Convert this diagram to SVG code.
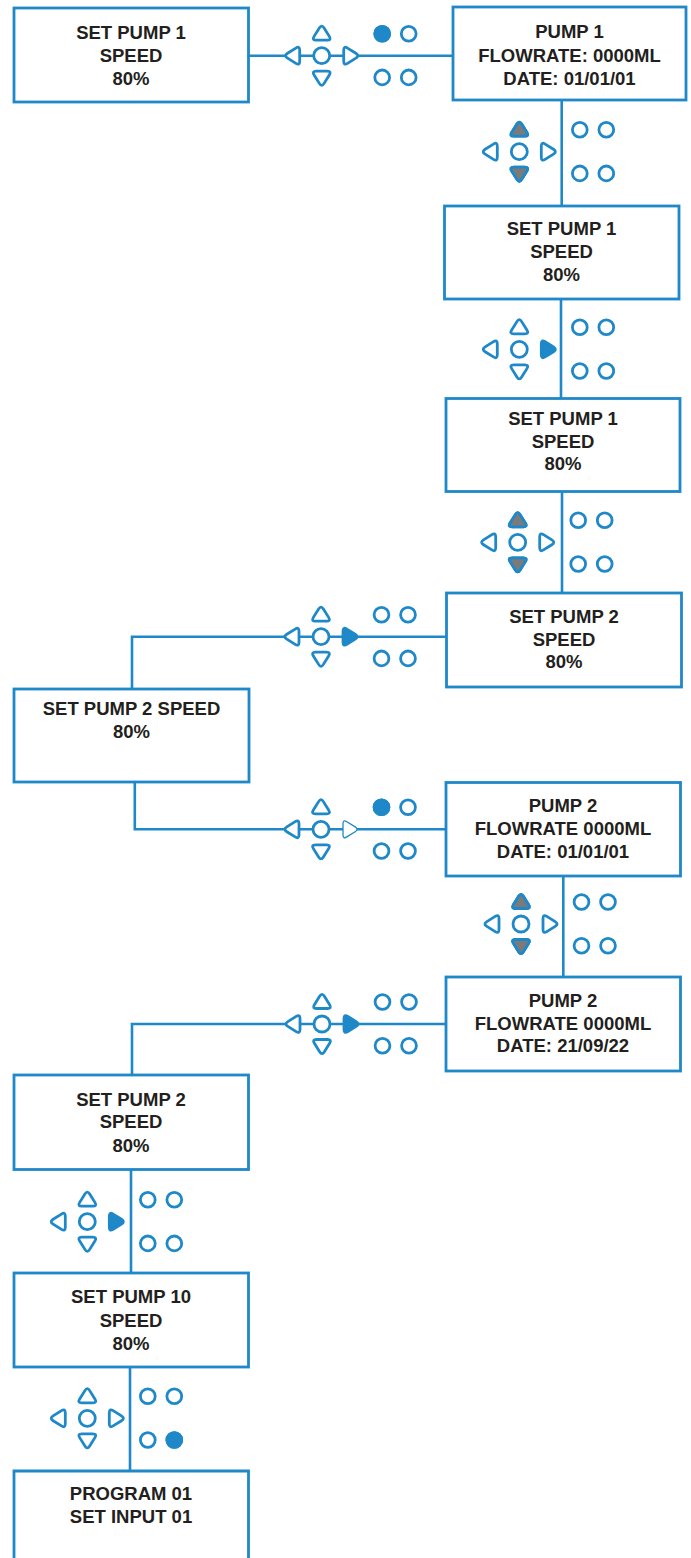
<svg xmlns="http://www.w3.org/2000/svg" xmlns:xlink="http://www.w3.org/1999/xlink" width="691" height="1558" viewBox="0 0 691 1558">
<style>
.box{fill:#fff;stroke:#1e88c8;stroke-width:2.8}
.ln{fill:none;stroke:#1e88c8;stroke-width:2.6}
.t{font-family:"Liberation Sans",Arial,Helvetica,sans-serif;font-weight:bold;font-size:18.5px;fill:#231f20;text-anchor:middle}
.kg{fill:#7a7a7a;stroke:#1e88c8;stroke-width:2.8;stroke-linejoin:round}
.kb{fill:#1e88c8;stroke:#1e88c8;stroke-width:2.8;stroke-linejoin:round}
.kn{fill:#fff;stroke:#1e88c8;stroke-width:2.8;stroke-linejoin:round}
.kw{fill:#fff;stroke:#1e88c8;stroke-width:1.3;stroke-linejoin:round}
</style>
<defs>
<path id="tri" d="M2.39,-4.68 L7.62,3.68 Q10,7.5 5.5,7.5 L-5.5,7.5 Q-10,7.5 -7.62,3.68 L-2.39,-4.68 Q0,-8.5 2.39,-4.68Z"/>
<g id="pad" fill="#fff" stroke="#1e88c8" stroke-width="2.8" stroke-linejoin="round">
<use href="#tri" xlink:href="#tri" transform="translate(0,-23)"/>
<use href="#tri" xlink:href="#tri" transform="translate(0,23) rotate(180)"/>
<use href="#tri" xlink:href="#tri" transform="translate(-29.5,0) rotate(-90)"/>
<circle r="8"/>
<circle cx="60.5" cy="-22" r="7.4"/>
<circle cx="87" cy="-22" r="7.4"/>
<circle cx="60.5" cy="21.7" r="7.4"/>
<circle cx="87" cy="21.7" r="7.4"/>
</g>
</defs>
<rect width="691" height="1558" fill="#fff"/>

<g id="connectors">
<path class="ln" d="M249,55.7 H452"/>
<path class="ln" d="M561.7,100 V206"/>
<path class="ln" d="M561,299 V398"/>
<path class="ln" d="M562,492 V593"/>
<path class="ln" d="M132,689 V636.7 H446.5"/>
<path class="ln" d="M134.8,782 V829.3 H446"/>
<path class="ln" d="M563.3,876 V977"/>
<path class="ln" d="M446,1024 H132 V1075"/>
<path class="ln" d="M131,1170 V1273"/>
<path class="ln" d="M130,1367 V1471"/>
</g>

<g id="keys1" transform="translate(321.7,55.7)">
<use href="#pad" xlink:href="#pad"/>
<use href="#tri" xlink:href="#tri" class="kn" transform="translate(29.5,0) rotate(90)"/>
<circle class="kb" cx="60.5" cy="-22" r="7.4"/>
</g>
<g id="keys2" transform="translate(519.3,151.7)">
<use href="#pad" xlink:href="#pad"/>
<use href="#tri" xlink:href="#tri" class="kn" transform="translate(29.5,0) rotate(90)"/>
<use href="#tri" xlink:href="#tri" class="kg" transform="translate(0,-23)"/>
<use href="#tri" xlink:href="#tri" class="kg" transform="translate(0,23) rotate(180)"/>
</g>
<g id="keys3" transform="translate(519.3,349.3)">
<use href="#pad" xlink:href="#pad"/>
<use href="#tri" xlink:href="#tri" class="kb" transform="translate(29.5,0) rotate(90)"/>
</g>
<g id="keys4" transform="translate(517.7,542.3)">
<use href="#pad" xlink:href="#pad"/>
<use href="#tri" xlink:href="#tri" class="kn" transform="translate(29.5,0) rotate(90)"/>
<use href="#tri" xlink:href="#tri" class="kg" transform="translate(0,-23)"/>
<use href="#tri" xlink:href="#tri" class="kg" transform="translate(0,23) rotate(180)"/>
</g>
<g id="keys5" transform="translate(321,636.7)">
<use href="#pad" xlink:href="#pad"/>
<use href="#tri" xlink:href="#tri" class="kb" transform="translate(29.5,0) rotate(90)"/>
</g>
<g id="keys6" transform="translate(321,829.3)">
<use href="#pad" xlink:href="#pad"/>
<use href="#tri" xlink:href="#tri" class="kw" transform="translate(29.5,0) rotate(90)"/>
<circle class="kb" cx="60.5" cy="-22" r="7.4"/>
</g>
<g id="keys7" transform="translate(521,924)">
<use href="#pad" xlink:href="#pad"/>
<use href="#tri" xlink:href="#tri" class="kn" transform="translate(29.5,0) rotate(90)"/>
<use href="#tri" xlink:href="#tri" class="kg" transform="translate(0,-23)"/>
<use href="#tri" xlink:href="#tri" class="kg" transform="translate(0,23) rotate(180)"/>
</g>
<g id="keys8" transform="translate(322,1024)">
<use href="#pad" xlink:href="#pad"/>
<use href="#tri" xlink:href="#tri" class="kb" transform="translate(29.5,0) rotate(90)"/>
</g>
<g id="keys9" transform="translate(87.3,1221.7)">
<use href="#pad" xlink:href="#pad"/>
<use href="#tri" xlink:href="#tri" class="kb" transform="translate(29.5,0) rotate(90)"/>
</g>
<g id="keys10" transform="translate(87.3,1418.3)">
<use href="#pad" xlink:href="#pad"/>
<use href="#tri" xlink:href="#tri" class="kn" transform="translate(29.5,0) rotate(90)"/>
<circle class="kb" cx="87" cy="21.7" r="7.4"/>
</g>

<g id="box1">
<rect class="box" x="14" y="8" width="234.5" height="94"/>
<text class="t" x="131" y="38.6">SET PUMP 1</text>
<text class="t" x="131" y="62">SPEED</text>
<text class="t" x="131" y="85">80%</text>
</g>
<g id="box2">
<rect class="box" x="453" y="7" width="233" height="93"/>
<text class="t" x="569.5" y="38.1">PUMP 1</text>
<text class="t" x="569.5" y="61.6">FLOWRATE: 0000ML</text>
<text class="t" x="569.5" y="85.1">DATE: 01/01/01</text>
</g>
<g id="box3">
<rect class="box" x="444.5" y="206" width="234.5" height="93"/>
<text class="t" x="561.5" y="235">SET PUMP 1</text>
<text class="t" x="561.5" y="258.3">SPEED</text>
<text class="t" x="561.5" y="280.6">80%</text>
</g>
<g id="box4">
<rect class="box" x="446" y="398.5" width="234" height="93"/>
<text class="t" x="563" y="425">SET PUMP 1</text>
<text class="t" x="563" y="447.5">SPEED</text>
<text class="t" x="563" y="470">80%</text>
</g>
<g id="box5">
<rect class="box" x="446.5" y="593" width="235" height="94"/>
<text class="t" x="564" y="623.3">SET PUMP 2</text>
<text class="t" x="564" y="646">SPEED</text>
<text class="t" x="564" y="668.3">80%</text>
</g>
<g id="box6">
<rect class="box" x="14" y="689" width="235" height="93"/>
<text class="t" x="131.5" y="715">SET PUMP 2 SPEED</text>
<text class="t" x="131.5" y="738.3">80%</text>
</g>
<g id="box7">
<rect class="box" x="446" y="782.5" width="234.5" height="93.5"/>
<text class="t" x="563" y="812">PUMP 2</text>
<text class="t" x="563" y="835">FLOWRATE 0000ML</text>
<text class="t" x="563" y="858">DATE: 01/01/01</text>
</g>
<g id="box8">
<rect class="box" x="446" y="977" width="234.5" height="94"/>
<text class="t" x="563" y="1006.8">PUMP 2</text>
<text class="t" x="563" y="1030">FLOWRATE 0000ML</text>
<text class="t" x="563" y="1052">DATE: 21/09/22</text>
</g>
<g id="box9">
<rect class="box" x="14" y="1075" width="234.5" height="94.5"/>
<text class="t" x="131" y="1105.6">SET PUMP 2</text>
<text class="t" x="131" y="1128.3">SPEED</text>
<text class="t" x="131" y="1151.6">80%</text>
</g>
<g id="box10">
<rect class="box" x="14" y="1273" width="234.5" height="94"/>
<text class="t" x="131" y="1303.3">SET PUMP 10</text>
<text class="t" x="131" y="1326.6">SPEED</text>
<text class="t" x="131" y="1350">80%</text>
</g>
<g id="box11">
<path class="box" d="M14,1562 V1471 H248.5 V1562"/>
<text class="t" x="131" y="1500">PROGRAM 01</text>
<text class="t" x="131" y="1522.6">SET INPUT 01</text>
</g>
</svg>
